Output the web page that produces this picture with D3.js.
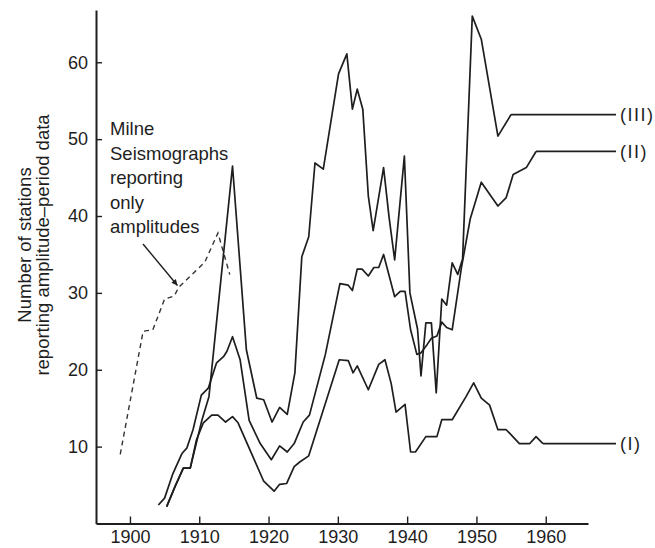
<!DOCTYPE html>
<html>
<head>
<meta charset="utf-8">
<script src="https://cdn.jsdelivr.net/npm/d3@7"></script>
<style>
  html, body { margin: 0; padding: 0; background: #ffffff; }
  svg { display: block; }
  text { font-family: "Liberation Sans", Arial, Helvetica, sans-serif; fill: #1e1e1e; }
</style>
</head>
<body>
<svg id="chart" width="655" height="548"></svg>
<script>
// Station counts per year (values read as number of stations)
const milneYears  = [1898.6, 1901.9, 1903.3, 1905.0, 1906.4, 1907.0, 1910.8, 1912.7, 1914.4];
const milneValues = [9.0, 25.0, 25.2, 29.2, 29.6, 30.7, 34.0, 37.8, 32.4];

const seriesIIIYears  = [1905.3, 1906.5, 1907.7, 1908.7, 1910.4, 1911.4, 1914.8, 1916.8, 1918.3, 1919.3, 1920.5, 1921.6, 1922.7, 1923.8, 1924.8, 1925.8, 1926.7, 1927.9, 1930.1, 1931.3, 1932.1, 1932.8, 1933.6, 1934.4, 1935.1, 1936.6, 1937.4, 1938.2, 1939.6, 1940.4, 1941.5, 1942.0, 1942.7, 1943.5, 1944.2, 1945.0, 1945.7, 1946.5, 1947.3, 1948.0, 1949.4, 1950.7, 1953.1, 1955.0];
const seriesIIIValues = [2.2, 4.8, 7.2, 7.2, 13.5, 16.5, 46.5, 22.6, 16.3, 16.1, 13.2, 15.1, 14.2, 19.6, 34.7, 37.3, 46.9, 46.1, 58.5, 61.1, 53.9, 56.5, 53.9, 42.6, 38.1, 46.3, 39.8, 34.3, 47.8, 30.0, 25.3, 19.2, 26.1, 26.1, 17.0, 29.2, 28.4, 33.9, 32.4, 34.4, 66.0, 63.0, 50.4, 53.2];

const seriesIIYears  = [1904.1, 1905.0, 1906.2, 1907.5, 1908.2, 1909.1, 1910.3, 1911.3, 1912.5, 1913.5, 1914.0, 1914.8, 1915.9, 1917.2, 1918.8, 1920.4, 1921.6, 1922.7, 1923.7, 1925.0, 1925.9, 1928.2, 1930.3, 1931.5, 1932.1, 1932.8, 1933.5, 1934.4, 1935.2, 1935.9, 1936.6, 1938.2, 1939.0, 1939.7, 1940.5, 1941.4, 1942.0, 1942.9, 1943.5, 1944.3, 1945.0, 1945.7, 1946.5, 1947.8, 1949.1, 1950.7, 1953.1, 1954.3, 1955.3, 1957.2, 1958.6];
const seriesIIValues = [2.4, 3.3, 6.5, 9.1, 9.8, 12.2, 16.7, 17.6, 20.9, 21.7, 22.4, 24.3, 21.3, 13.4, 10.4, 8.3, 10.1, 9.3, 10.4, 13.2, 14.1, 22.0, 31.2, 31.0, 30.3, 33.1, 33.1, 32.2, 33.3, 33.3, 35.0, 29.5, 30.2, 30.2, 25.2, 22.0, 22.2, 23.3, 24.1, 24.4, 26.2, 25.5, 25.2, 33.1, 39.6, 44.4, 41.3, 42.4, 45.4, 46.3, 48.4];

const seriesIYears  = [1905.3, 1906.5, 1907.7, 1908.7, 1909.6, 1910.6, 1911.8, 1912.7, 1913.8, 1914.8, 1915.6, 1917.3, 1919.3, 1920.8, 1921.6, 1922.6, 1923.7, 1924.5, 1925.8, 1930.2, 1931.5, 1932.2, 1932.8, 1934.4, 1935.9, 1936.8, 1937.7, 1938.4, 1939.7, 1940.5, 1941.2, 1942.7, 1944.3, 1945.0, 1946.5, 1948.5, 1949.6, 1950.7, 1951.9, 1953.1, 1954.3, 1956.2, 1957.7, 1958.6, 1959.6];
const seriesIValues = [2.2, 4.8, 7.2, 7.2, 10.9, 13.1, 14.1, 14.1, 13.2, 13.9, 13.1, 9.6, 5.5, 4.2, 5.1, 5.2, 7.4, 8.0, 8.8, 21.3, 21.2, 19.6, 20.5, 17.4, 20.7, 21.3, 18.2, 14.5, 15.5, 9.3, 9.3, 11.3, 11.3, 13.5, 13.5, 16.5, 18.3, 16.3, 15.4, 12.2, 12.2, 10.4, 10.4, 11.3, 10.4];

const xTickYears  = [1900, 1910, 1920, 1930, 1940, 1950, 1960];
const yTickValues = [10, 20, 30, 40, 50, 60];

const seriesLabels = ["(III)", "(II)", "(I)"];
const noteLines = ["Milne", "Seismographs", "reporting", "only", "amplitudes"];
const yTitleLines = ["Number of stations", "reporting amplitude\u2013period data"];

const svg = d3.select("#chart");
const ink = "#1e1e1e";

const x = d3.scaleLinear().domain([1895.1, 1966.1]).range([96, 588]);
const y = d3.scaleLinear().domain([0, 66.8]).range([523.5, 10]);

const zip = (xs, vs) => xs.map((d, i) => ({ year: d, value: vs[i] }));
const line = d3.line().x(d => x(d.year)).y(d => y(d.value));

// Axes
const xAxis = d3.axisBottom(x).tickValues(xTickYears).tickFormat(d3.format("d"))
  .tickSizeInner(-7).tickSizeOuter(0).tickPadding(7);
const yAxis = d3.axisLeft(y).tickValues(yTickValues)
  .tickSizeInner(-6).tickSizeOuter(0).tickPadding(8);

const gx = svg.append("g").attr("transform", `translate(0,${y(0)})`).call(xAxis);
const gy = svg.append("g").attr("transform", `translate(${x(1895.1)},0)`).call(yAxis);
[gx, gy].forEach(g => {
  g.select(".domain").attr("stroke", ink).attr("stroke-width", 2);
  g.selectAll(".tick line").attr("stroke", ink).attr("stroke-width", 1.4);
  g.selectAll(".tick text").attr("font-size", 18).attr("fill", ink)
    .attr("font-family", "Liberation Sans, Arial, sans-serif");
});

// Y axis title, two lines
const yTitle = svg.append("g").attr("transform", "translate(0,245) rotate(-90)");
yTitle.selectAll("text").data(yTitleLines).join("text")
  .attr("x", 0).attr("y", (d, i) => 31 + i * 17.5)
  .attr("text-anchor", "middle").attr("font-size", 18.5)
  .text(d => d);

// Dashed series: Milne seismographs
svg.append("path").datum(zip(milneYears, milneValues))
  .attr("d", line).attr("fill", "none").attr("stroke", "#333")
  .attr("stroke-width", 1.4).attr("stroke-dasharray", "5,4");

// Solid series with leader lines to their labels
const series = [
  { label: seriesLabels[0], data: zip(seriesIIIYears, seriesIIIValues) },
  { label: seriesLabels[1], data: zip(seriesIIYears, seriesIIValues) },
  { label: seriesLabels[2], data: zip(seriesIYears, seriesIValues) }
];
const labelX = 620;
series.forEach(s => {
  svg.append("path").datum(s.data)
    .attr("d", line).attr("fill", "none").attr("stroke", ink)
    .attr("stroke-width", 1.7).attr("stroke-linejoin", "round");
  const last = s.data[s.data.length - 1];
  svg.append("line")
    .attr("x1", x(last.year)).attr("y1", y(last.value))
    .attr("x2", labelX - 4).attr("y2", y(last.value))
    .attr("stroke", ink).attr("stroke-width", 1.7);
  svg.append("text").attr("x", labelX).attr("y", y(last.value))
    .attr("dy", "0.35em").attr("font-size", 18).attr("letter-spacing", 1.5)
    .text(s.label);
});

// Annotation for the dashed curve
svg.append("g").selectAll("text").data(noteLines).join("text")
  .attr("x", 110).attr("y", (d, i) => 135 + i * 24.5)
  .attr("font-size", 18.5).text(d => d);

svg.append("defs").append("marker")
  .attr("id", "head").attr("viewBox", "0 0 10 10")
  .attr("refX", 10).attr("refY", 5)
  .attr("markerWidth", 9).attr("markerHeight", 6)
  .attr("markerUnits", "userSpaceOnUse").attr("orient", "auto")
  .append("path").attr("d", "M0,0 L10,5 L0,10 Z").attr("fill", ink);

const target = { year: milneYears[5], value: milneValues[5] };
svg.append("line")
  .attr("x1", 143).attr("y1", 244)
  .attr("x2", x(target.year) - 1).attr("y2", y(target.value) - 2)
  .attr("stroke", ink).attr("stroke-width", 1.4)
  .attr("marker-end", "url(#head)");
</script>
</body>
</html>
